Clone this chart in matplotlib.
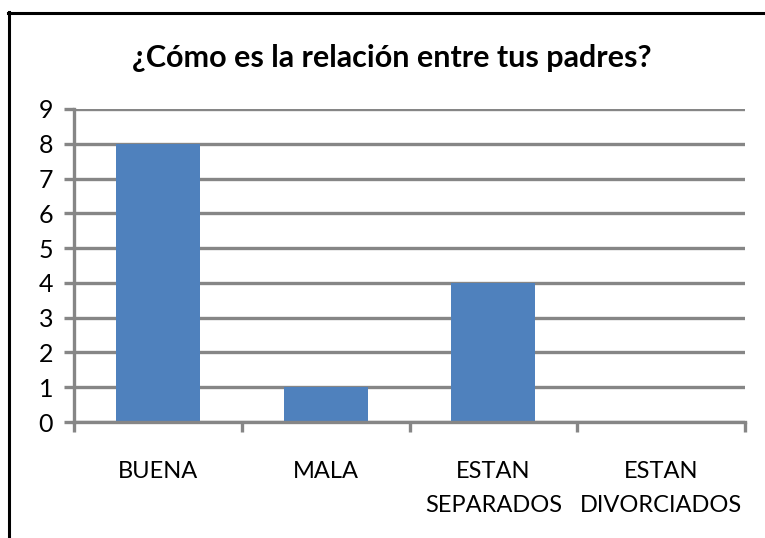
import matplotlib.pyplot as plt
from matplotlib.lines import Line2D

categories = ['BUENA', 'MALA', 'ESTAN\nSEPARADOS', 'ESTAN\nDIVORCIADOS']
values = [8, 1, 4, 0]
yticks = list(range(0, 10))

W, H = 765, 538
fig = plt.figure(figsize=(W / 100, H / 100), dpi=100)
plt.rcParams['font.family'] = ['Lato', 'DejaVu Sans']

# plot area in pixels: left 74, right 745, top 109 (y=9), bottom 422 (y=0)
ax = fig.add_axes([74 / W, 1 - 422 / H, (745 - 74) / W, (422 - 109) / H])

grid_color = '#868686'
x = range(len(categories))
ax.bar(x, values, width=0.5, color='#4F81BD', zorder=3)

ax.set_xlim(-0.5, len(categories) - 0.5)
ax.set_ylim(0, 9)
ax.set_yticks(yticks)
ax.set_xticks([i - 0.5 for i in range(len(categories) + 1)], minor=False)
ax.set_xticklabels([])
ax.set_xticks(list(x), minor=True)
ax.set_xticklabels(categories, minor=True, fontsize=17, linespacing=1.8)
ax.tick_params(axis='x', which='minor', length=0, pad=28)
ax.tick_params(axis='x', which='major', length=7, width=2.4, color=grid_color, direction='out')
ax.tick_params(axis='y', length=7, width=2.4, color=grid_color, labelsize=18, pad=8)

ax.yaxis.grid(True, color=grid_color, linewidth=2.4, zorder=0)
ax.set_axisbelow(True)
for s in ['top', 'right']:
    ax.spines[s].set_visible(False)
for s in ['left', 'bottom']:
    ax.spines[s].set_color(grid_color)
    ax.spines[s].set_linewidth(2.4)
    ax.spines[s].set_zorder(4)

fig.text(392 / W, 1 - 58 / H, '¿Cómo es la relación entre tus padres?',
         ha='center', va='center', fontsize=22, fontweight='bold')

# outer chart border (partly cropped in the original)
fig.add_artist(Line2D([9 / W, 9 / W], [0, 1 - 12 / H], transform=fig.transFigure, color='black', linewidth=2.2))
fig.add_artist(Line2D([8 / W, 1], [1 - 13 / H, 1 - 13 / H], transform=fig.transFigure, color='black', linewidth=2.2))

plt.savefig('out.png', dpi=100)
